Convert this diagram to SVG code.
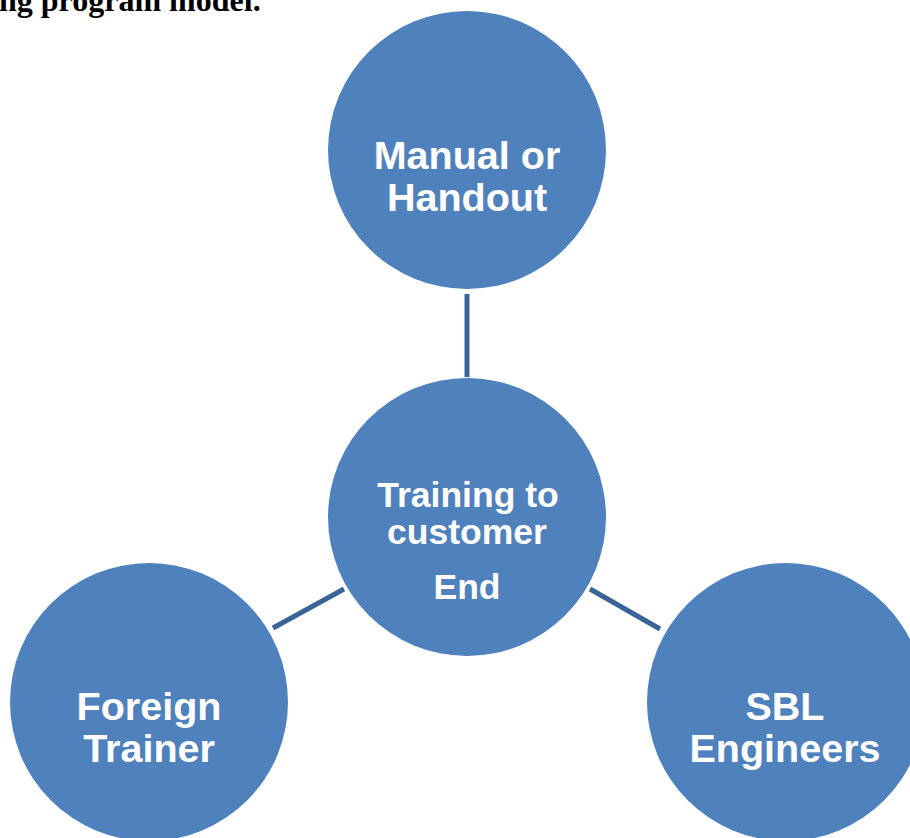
<svg xmlns="http://www.w3.org/2000/svg" width="910" height="838" viewBox="0 0 910 838">
  <style>
    .node { fill: #4F81BD; }
    .lbl { fill: #FFFFFF; font-family: "Liberation Sans", Arial, sans-serif; font-weight: bold; text-anchor: middle; }
    .big { font-size: 39.5px; }
    .mid { font-size: 35.5px; }
    .conn { stroke: #3B6496; stroke-width: 5; fill: none; }
    .title { font-family: "Liberation Serif", "Times New Roman", serif; font-weight: bold; font-size: 32px; fill: #000000; }
  </style>
  <rect width="910" height="838" fill="#FFFFFF"/>
  <text class="title" x="-1" y="11">ng program model.</text>
  <g id="connectors">
    <line class="conn" x1="467" y1="294" x2="467" y2="377"/>
    <line class="conn" x1="273" y1="628" x2="344" y2="589"/>
    <line class="conn" x1="590" y1="589" x2="660" y2="629"/>
  </g>
  <g id="node-manual">
    <circle class="node" cx="467" cy="150" r="139"/>
    <text class="lbl big" x="467" y="169">Manual or</text>
    <text class="lbl big" x="467" y="211">Handout</text>
  </g>
  <g id="node-training">
    <circle class="node" cx="467" cy="517" r="139"/>
    <text class="lbl mid" x="468" y="507">Training to</text>
    <text class="lbl mid" x="467" y="544">customer</text>
    <text class="lbl mid" x="467" y="599">End</text>
  </g>
  <g id="node-foreign">
    <circle class="node" cx="149" cy="702" r="139"/>
    <text class="lbl big" x="149" y="720">Foreign</text>
    <text class="lbl big" x="149" y="762">Trainer</text>
  </g>
  <g id="node-sbl">
    <circle class="node" cx="786" cy="702" r="139"/>
    <text class="lbl big" x="785" y="720">SBL</text>
    <text class="lbl big" x="785" y="762">Engineers</text>
  </g>
</svg>
